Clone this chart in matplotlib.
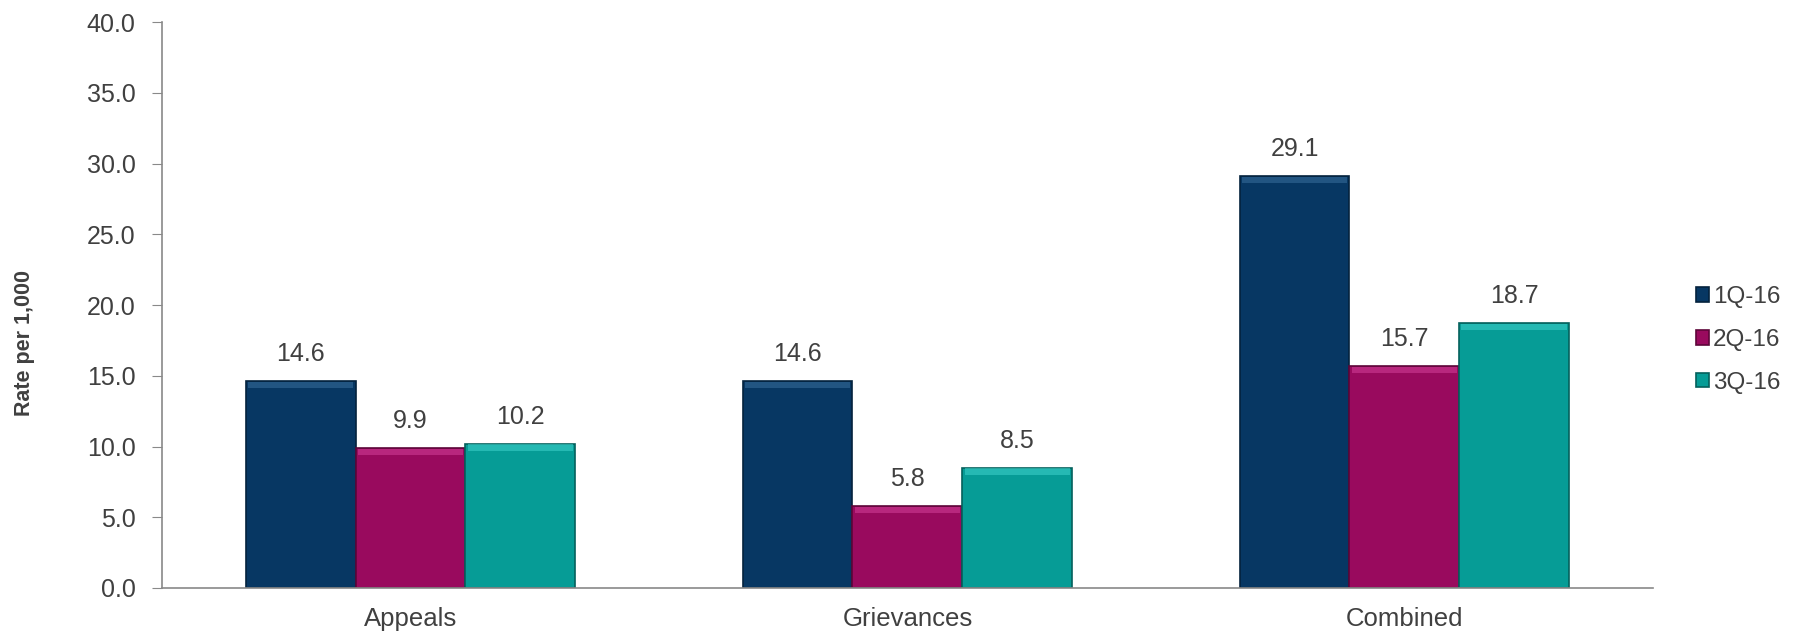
import numpy as np
import matplotlib
matplotlib.use("Agg")
import matplotlib.pyplot as plt

plt.rcParams['font.family'] = ['Liberation Sans', 'DejaVu Sans']

categories = ["Appeals", "Grievances", "Combined"]
series = ["1Q-16", "2Q-16", "3Q-16"]
q1 = [14.6, 14.6, 29.1]
q2 = [9.9, 5.8, 15.7]
q3 = [10.2, 8.5, 18.7]
colors = ["#073763", "#990a5e", "#069c96"]
edges = ["#04223d", "#5e0639", "#04605c"]
tops = ["#3a6e9c", "#d2409a", "#3fd2cb"]

fig = plt.figure(figsize=(17.94, 6.33), dpi=100)
ax = fig.add_axes([0.0903, 0.0711, 0.831, 0.8941])

x = np.arange(len(categories))
w = 0.221
text_col = "#404040"
for i, (vals, c, e, t, name) in enumerate(zip([q1, q2, q3], colors, edges, tops, series)):
    pos = x + (i - 1) * w
    ax.bar(pos, vals, w, color=c, edgecolor=e, linewidth=1.2, label=name, zorder=2)
    # bevel highlight along the top edge
    ax.bar(pos, [0.45] * len(vals), w * 0.96, bottom=np.array(vals) - 0.5,
           color=t, alpha=0.55, linewidth=0, zorder=3)
    for p, v in zip(pos, vals):
        ax.annotate(f"{v:.1f}", (p, v), xytext=(0, 27), textcoords="offset pixels",
                    ha="center", va="center", fontsize=18, color=text_col)

ax.set_xlim(-0.5, 2.5)
ax.set_ylim(0, 40)
ax.set_yticks(np.arange(0, 41, 5))
ax.set_yticklabels([f"{v:.1f}" for v in np.arange(0, 41, 5)])
ax.set_xticks(x)
ax.set_xticklabels(categories)
ax.tick_params(axis="y", labelsize=18, colors="#898989", labelcolor=text_col, length=7, pad=12)
ax.tick_params(axis="x", labelsize=18.5, length=0, labelcolor=text_col, pad=14)
for s in ["top", "right"]:
    ax.spines[s].set_visible(False)
for s in ["left", "bottom"]:
    ax.spines[s].set_color("#898989")
    ax.spines[s].set_linewidth(1.2)
ax.set_ylabel("Rate per 1,000", fontsize=15.5, fontweight="bold", color=text_col)
ax.yaxis.set_label_coords(-0.085, 0.433)

handles, labels = ax.get_legend_handles_labels()
fig.legend(handles, labels, loc="center left", bbox_to_anchor=(0.933, 1 - 340 / 633),
           frameon=False, fontsize=17.5, handlelength=0.55, handleheight=0.55,
           handletextpad=0.15, labelspacing=0.85, labelcolor=text_col)

fig.savefig("out.png", dpi=100)
